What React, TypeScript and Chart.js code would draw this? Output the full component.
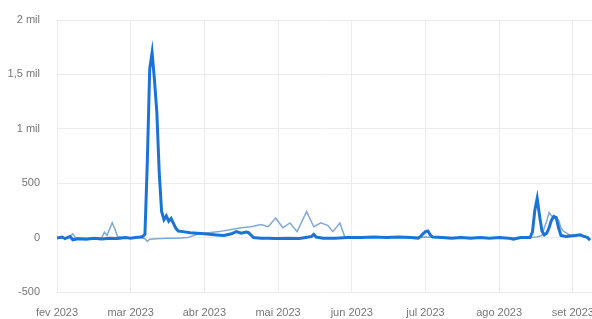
import React, { useEffect, useRef } from "react";
import { Chart, registerables } from "chart.js";

Chart.register(...registerables);

const monthLabels = ["fev 2023", "mar 2023", "abr 2023", "mai 2023", "jun 2023", "jul 2023", "ago 2023", "set 2023"];

const yTicks = [-500, 0, 500, 1000, 1500, 2000];

const mainDates = [
  "2023-02-01", "2023-02-03", "2023-02-04", "2023-02-06", "2023-02-07", "2023-02-09", "2023-02-12", "2023-02-15",
  "2023-02-18", "2023-02-21", "2023-02-24", "2023-02-27",
  "2023-03-01", "2023-03-03", "2023-03-05", "2023-03-06", "2023-03-07", "2023-03-08", "2023-03-09", "2023-03-10",
  "2023-03-11", "2023-03-12", "2023-03-13", "2023-03-14", "2023-03-15", "2023-03-16", "2023-03-17", "2023-03-18",
  "2023-03-19", "2023-03-20", "2023-03-21", "2023-03-23", "2023-03-26", "2023-03-29",
  "2023-04-01", "2023-04-03", "2023-04-06", "2023-04-09", "2023-04-12", "2023-04-14", "2023-04-16", "2023-04-18",
  "2023-04-19", "2023-04-21", "2023-04-24", "2023-04-27", "2023-04-30",
  "2023-05-05", "2023-05-10", "2023-05-15", "2023-05-16", "2023-05-17", "2023-05-20", "2023-05-25", "2023-05-30",
  "2023-06-05", "2023-06-10", "2023-06-15", "2023-06-20", "2023-06-25", "2023-06-28", "2023-06-29", "2023-06-30",
  "2023-07-01", "2023-07-02", "2023-07-03", "2023-07-04", "2023-07-08", "2023-07-12", "2023-07-16", "2023-07-20",
  "2023-07-24", "2023-07-28",
  "2023-08-01", "2023-08-05", "2023-08-07", "2023-08-10", "2023-08-12", "2023-08-14", "2023-08-15", "2023-08-16",
  "2023-08-17", "2023-08-18", "2023-08-19", "2023-08-20", "2023-08-21", "2023-08-22", "2023-08-23", "2023-08-24",
  "2023-08-25", "2023-08-26", "2023-08-27", "2023-08-29", "2023-08-31",
  "2023-09-02", "2023-09-04", "2023-09-05", "2023-09-07", "2023-09-08",
];
const mainValues = [
  -5, 5, -10, 10, -20, -10, -15, -5,
  -12, -5, -8, 0,
  -5, 0, 5, 10, 30, 700, 1550, 1700,
  1450, 1150, 600, 240, 165, 200, 150, 175,
  130, 85, 60, 55, 45, 40,
  35, 30, 25, 20, 35, 55, 40, 50,
  45, 0, -5, -5, -8,
  -5, -8, 10, 30, 5, -5, -5, 0,
  0, 5, 0, 5, 0, -5, 10, 35,
  55, 60, 25, 5, 0, -5, 0, -5,
  0, -5,
  0, -5, -15, 0, 0, 0, 50, 250,
  360, 200, 60, 25, 40, 90, 160, 195,
  185, 90, 20, 10, 15,
  20, 25, 15, 0, -25,
];

const secondDates = [
  "2023-02-01", "2023-02-04", "2023-02-06", "2023-02-07", "2023-02-08", "2023-02-12", "2023-02-16", "2023-02-18",
  "2023-02-19", "2023-02-20", "2023-02-21", "2023-02-22", "2023-02-23", "2023-02-24", "2023-02-26",
  "2023-03-01", "2023-03-05", "2023-03-07", "2023-03-08", "2023-03-09", "2023-03-12", "2023-03-16", "2023-03-20",
  "2023-03-25", "2023-03-29",
  "2023-04-01", "2023-04-07", "2023-04-12", "2023-04-16", "2023-04-20", "2023-04-24", "2023-04-27", "2023-04-30",
  "2023-05-03", "2023-05-06", "2023-05-09", "2023-05-13", "2023-05-16", "2023-05-19", "2023-05-22", "2023-05-24",
  "2023-05-27", "2023-05-29", "2023-06-02",
  "2023-06-10", "2023-06-20", "2023-07-01", "2023-07-10", "2023-07-20", "2023-08-01", "2023-08-10", "2023-08-17",
  "2023-08-19", "2023-08-20", "2023-08-21", "2023-08-22", "2023-08-23", "2023-08-24", "2023-08-25", "2023-08-26",
  "2023-08-27", "2023-08-28", "2023-08-29", "2023-08-31",
  "2023-09-02", "2023-09-04", "2023-09-06", "2023-09-08",
];
const secondValues = [
  0, -5, 15, 35, 0, -5, -10, 0,
  50, 20, 80, 137, 80, 10, 0,
  -5, 0, -10, -35, -15, -10, -5, -5,
  0, 30,
  40, 55, 75, 90, 100, 120, 100, 180,
  90, 135, 55, 240, 100, 135, 110, 55,
  135, 10, 0,
  5, 0, 5, 0, 0, -5, 0, 5,
  20, 90, 150, 230, 200, 180, 175, 160,
  90, 60, 45, 20,
  20, 20, 10, -15,
];

function toX(d: string): number {
  const [y, m, day] = d.split("-").map(Number);
  const dim = new Date(y, m, 0).getDate();
  return m - 2 + (day - 1) / dim;
}

function fmtY(v: number): string {
  if (Math.abs(v) >= 1000) return String(v / 1000).replace(".", ",") + " mil";
  return String(v);
}

export default function App() {
  const ref = useRef<HTMLCanvasElement | null>(null);

  useEffect(() => {
    if (!ref.current) return;
    const mainPts = mainDates.map((d, i) => ({ x: toX(d), y: mainValues[i] }));
    const secondPts = secondDates.map((d, i) => ({ x: toX(d), y: secondValues[i] }));
    const chart = new Chart(ref.current, {
      type: "line",
      data: {
        datasets: [
          {
            data: mainPts,
            borderColor: "#1a74d8",
            borderWidth: 3,
            pointRadius: 0,
            tension: 0,
            fill: false,
          },
          {
            data: secondPts,
            borderColor: "#7fa9d6",
            borderWidth: 1.5,
            pointRadius: 0,
            tension: 0,
            fill: false,
          },
        ],
      },
      options: {
        animation: false,
        responsive: false,
        maintainAspectRatio: false,
        layout: { padding: { top: 20, right: 0, bottom: 0, left: 0 }, autoPadding: false } as any,
        plugins: { legend: { display: false }, tooltip: { enabled: false } },
        scales: {
          x: {
            type: "linear",
            min: 0,
            max: 7.26,
            afterFit: (s: any) => {
              s.height = 27;
              s.paddingLeft = 0;
              s.paddingRight = 0;
              s.paddingTop = 0;
              s.paddingBottom = 0;
            },
            afterBuildTicks: (s: any) => {
              s.ticks = monthLabels.map((_, i) => ({ value: i }));
            },
            ticks: {
              callback: (v: any) => monthLabels[Math.round(Number(v))] ?? "",
              color: "#777",
              font: { family: "Liberation Sans, Arial, sans-serif", size: 11 },
              padding: 14,
              maxRotation: 0,
              autoSkip: false,
            },
            grid: { color: "#ececec", drawTicks: false },
            border: { display: false },
          },
          y: {
            min: -500,
            max: 2000,
            afterFit: (s: any) => {
              s.width = 57;
              s.paddingLeft = 0;
              s.paddingRight = 0;
              s.paddingTop = 0;
              s.paddingBottom = 0;
            },
            afterBuildTicks: (s: any) => {
              s.ticks = yTicks.map((v) => ({ value: v }));
            },
            ticks: {
              callback: (v: any) => fmtY(Number(v)),
              color: "#777",
              font: { family: "Liberation Sans, Arial, sans-serif", size: 11 },
              padding: 17,
            },
            grid: { color: "#ececec", drawTicks: false },
            border: { display: false },
          },
        },
      },
    });
    return () => chart.destroy();
  }, []);

  return (
    <div style={{ position: "fixed", left: 0, top: 0, width: 592, height: 319, background: "#fff" }}>
      <canvas ref={ref} width={592} height={319} style={{ width: 592, height: 319, display: "block" }} />
    </div>
  );
}
